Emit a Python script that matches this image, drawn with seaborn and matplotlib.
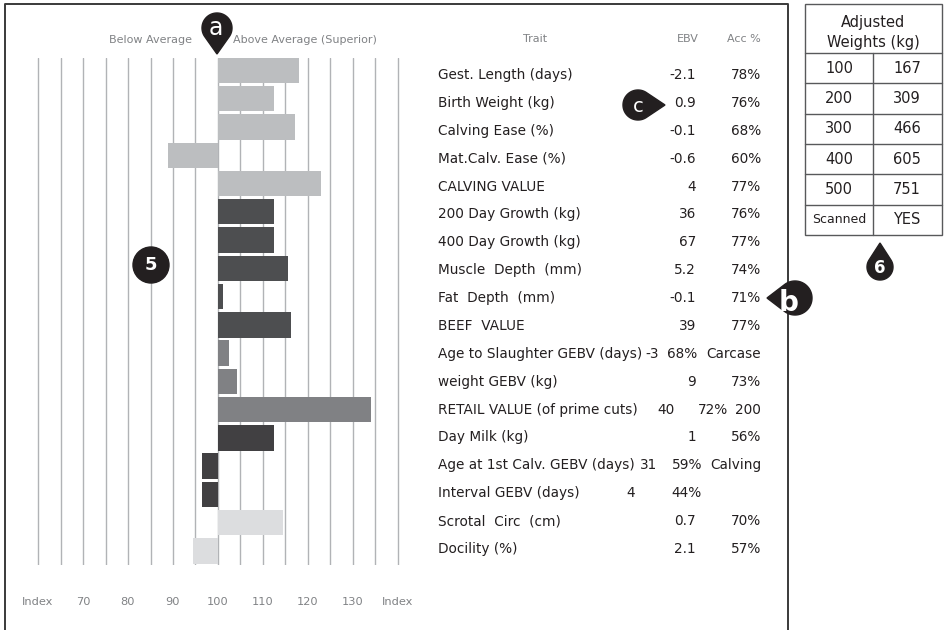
import numpy as np
import pandas as pd
import matplotlib
matplotlib.use('Agg')
import matplotlib.pyplot as plt
from matplotlib.patches import Polygon, Circle, Rectangle
import seaborn as sns

# trait rows (top to bottom)
traits = ['Gest. Length (days)', 'Birth Weight (kg)', 'Calving Ease (%)',
          'Mat.Calv. Ease (%)', 'CALVING VALUE', '200 Day Growth (kg)',
          '400 Day Growth (kg)', 'Muscle  Depth  (mm)', 'Fat  Depth  (mm)',
          'BEEF  VALUE', 'Age to Slaughter GEBV (days)', 'weight GEBV (kg)',
          'RETAIL VALUE (of prime cuts)', 'Day Milk (kg)',
          'Age at 1st Calv. GEBV (days)', 'Interval GEBV (days)',
          'Scrotal  Circ  (cm)', 'Docility (%)']
index_vals = [118.0, 112.4, 117.1, 88.9, 122.9, 112.4, 112.4, 115.6, 101.1,
              116.2, 102.4, 104.2, 134.0, 112.4, 96.4, 96.4, 114.4, 94.4]
ebv = ['-2.1', '0.9', '-0.1', '-0.6', '4', '36', '67', '5.2', '-0.1', '39',
       '-3', '9', '40', '1', '31', '4', '0.7', '2.1']
acc = ['78%', '76%', '68%', '60%', '77%', '76%', '77%', '74%', '71%', '77%',
       '68%', '73%', '72%', '56%', '59%', '44%', '70%', '57%']
spill = {10: 'Carcase', 12: '200', 14: 'Calving'}
bar_colors = ['#bcbec0'] * 5 + ['#4d4e50'] * 5 + ['#808184'] * 3 + ['#414042'] * 3 + ['#dcdddf'] * 2

index_ticks = [60, 70, 80, 90, 100, 110, 120, 130, 140]
index_labels = ['Index', '70', '80', '90', '100', '110', '120', '130', 'Index']

weight_age = ['100', '200', '300', '400', '500', 'Scanned']
weight_kg = ['167', '309', '466', '605', '751', 'YES']

W, H = 945, 630
sns.set_style('white')
fig = plt.figure(figsize=(9.45, 6.3), dpi=100)

# bar chart (bars drawn as offset from index 100), 4.5 px per index point
df = pd.DataFrame({'trait': traits, 'dev': [v - 100 for v in index_vals]})
ax = fig.add_axes([33.5 / W, 1 - 565 / H, 369 / W, 507 / H])
sns.barplot(data=df, x='dev', y='trait', hue='trait', palette=bar_colors,
            width=0.9, saturation=1, legend=False, orient='h', ax=ax, linewidth=0)
ax.set_xlim(-41, 41)
ax.set_ylim(17.5, -0.44)
ax.set_xticks([t - 100 for t in index_ticks], labels=index_labels)
ax.set_xticks(np.arange(-35, 40, 10), minor=True)
ax.grid(True, which='both', axis='x', color='#b1b3b6', lw=1)
ax.set_axisbelow(True)
ax.tick_params(axis='x', which='both', length=0, pad=23, labelsize=8.2, labelcolor='#808285')
ax.set_yticks([])
ax.set_xlabel('')
ax.set_ylabel('')
for s in ax.spines.values():
    s.set_visible(False)

# overlay in pixel coordinates for text, frame and table
ov = fig.add_axes([0, 0, 1, 1], zorder=5)
ov.set_xlim(0, W)
ov.set_ylim(H, 0)
ov.axis('off')
ov.patch.set_alpha(0)

ov.plot([5, 5, 788, 788], [630, 4, 4, 630], color='#3a3a3a', lw=1.4)

grey = '#808285'
dark = '#231f20'
ov.text(192, 40, 'Below Average', ha='right', va='center', fontsize=8, color=grey)
ov.text(233, 40, 'Above Average (Superior)', ha='left', va='center', fontsize=8, color=grey)
ov.text(535, 39, 'Trait', ha='center', va='center', fontsize=8, color=grey)
ov.text(699, 39, 'EBV', ha='right', va='center', fontsize=8, color=grey)
ov.text(761, 39, 'Acc %', ha='right', va='center', fontsize=8, color=grey)

# irregular rows: (ebv right edge, acc right edge)
odd_pos = {10: (659, 697), 12: (675, 728), 14: (657, 702), 15: (635, 702)}
fs = 9.8
for i, name in enumerate(traits):
    y = 75 + i * 27.88
    ov.text(438, y, name, ha='left', va='center', fontsize=fs, color=dark)
    ex, axx = odd_pos.get(i, (696, 761))
    ov.text(ex, y, ebv[i], ha='right', va='center', fontsize=fs, color=dark)
    ov.text(axx, y, acc[i], ha='right', va='center', fontsize=fs, color=dark)
    if i in spill:
        ov.text(761, y, spill[i], ha='right', va='center', fontsize=fs, color=dark)

# adjusted weights table
tc = '#58595b'
ov.add_patch(Rectangle((805, 4), 137, 231, fill=False, ec=tc, lw=1))
ov.text(873.5, 22, 'Adjusted', ha='center', va='center', fontsize=10.5, color=dark)
ov.text(873.5, 42, 'Weights (kg)', ha='center', va='center', fontsize=10.5, color=dark)
row_h = (235 - 53) / 6
for k in range(6):
    ov.plot([805, 942], [53 + k * row_h] * 2, color=tc, lw=1)
    yc = 53 + (k + 0.5) * row_h
    ov.text(839, yc, weight_age[k], ha='center', va='center',
            fontsize=9 if k == 5 else 10.5, color=dark)
    ov.text(907, yc, weight_kg[k], ha='center', va='center', fontsize=10.5, color=dark)
ov.plot([873, 873], [53, 235], color=tc, lw=1)


def pin(cx, cy, r, tx, ty):
    d = np.hypot(tx - cx, ty - cy)
    base = np.arctan2(ty - cy, tx - cx)
    a = np.arccos(r / d)
    t = np.linspace(base + a, base + 2 * np.pi - a, 80)
    pts = np.column_stack([cx + r * np.cos(t), cy + r * np.sin(t)])
    pts = np.vstack([pts, [tx, ty]])
    ov.add_patch(Polygon(pts, closed=True, color=dark, zorder=6))


pin(217, 28, 15, 217, 54)
ov.text(216, 28, 'a', ha='center', va='center', fontsize=17, color='white', zorder=7)
pin(638, 105, 15, 665, 105)
ov.text(638, 106, 'c', ha='center', va='center', fontsize=14, color='white', zorder=7)
pin(795, 298, 17, 767, 298)
ov.text(789, 303, 'b', ha='center', va='center', fontsize=20, fontweight='bold',
        color='white', zorder=7)
ov.add_patch(Circle((151, 265), 18, color=dark, zorder=6))
ov.text(151, 265, '5', ha='center', va='center', fontsize=13, fontweight='bold',
        color='white', zorder=7)
pin(880, 267, 13, 880, 243)
ov.text(880, 268, '6', ha='center', va='center', fontsize=12, fontweight='bold',
        color='white', zorder=7)

fig.savefig('out.png', dpi=100)
